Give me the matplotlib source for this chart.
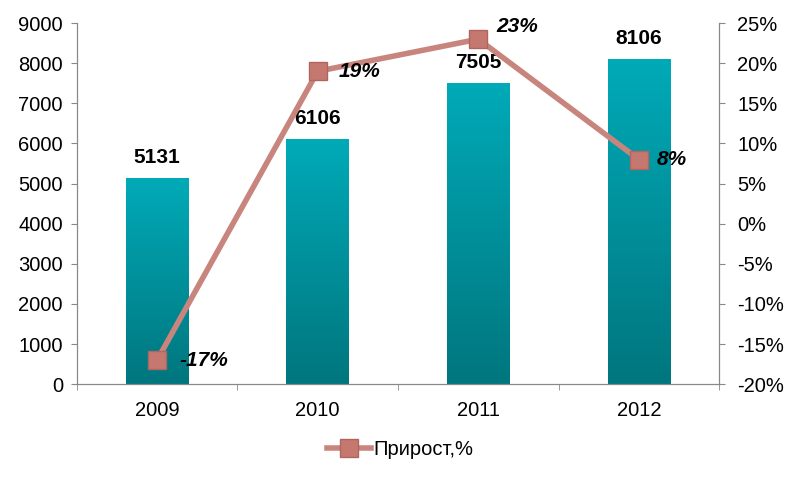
import numpy as np
import matplotlib
matplotlib.use("Agg")
import matplotlib.pyplot as plt
from matplotlib.colors import LinearSegmentedColormap
from matplotlib.ticker import FuncFormatter

plt.rcParams['font.family'] = ['Liberation Sans', 'DejaVu Sans']

years = ['2009', '2010', '2011', '2012']
values = [5131, 6106, 7505, 8106]
growth = [-17, 19, 23, 8]
legend_label = 'Прирост,%'

fig = plt.figure(figsize=(8, 4.82), dpi=100)
ax = fig.add_axes([0.096, 0.203, 0.803, 0.749])
ax2 = ax.twinx()

x = np.arange(len(years))
bw = 0.39
bars = ax.bar(x, values, width=bw, color='none', edgecolor='none', zorder=2)

# vertical gradient inside bars
cmap = LinearSegmentedColormap.from_list('teal', ['#00767E', '#00AAB8'])
grad = np.linspace(0, 1, 256).reshape(-1, 1)
for b in bars:
    x0, y0 = b.get_x(), b.get_y()
    w, h = b.get_width(), b.get_height()
    im = ax.imshow(grad, extent=[x0, x0 + w, y0, y0 + h], origin='lower',
                   cmap=cmap, aspect='auto', zorder=2)
    im.set_clip_path(b)

for xi, v in zip(x, values):
    ax.text(xi, v + 280, str(v), ha='center', va='bottom',
            fontsize=15, fontweight='bold')

ax.set_xlim(-0.5, len(years) - 0.5)
ax.set_ylim(0, 9000)
ax.set_yticks(np.arange(0, 9001, 1000))
ax.set_xticks(x)
ax.set_xticklabels(years)
ax.set_xticks(np.arange(-0.5, len(years), 1), minor=True)
ax.tick_params(axis='x', which='major', length=0, pad=12, labelsize=14.5)
ax.tick_params(axis='x', which='minor', length=4, color='#888888', direction='out')
ax.tick_params(axis='y', length=4, color='#888888', labelsize=14.5, pad=6)

ax2.set_ylim(-20, 25)
ax2.set_yticks(np.arange(-20, 26, 5))
ax2.yaxis.set_major_formatter(FuncFormatter(lambda v, p: f'{int(v)}%'))
ax2.tick_params(axis='y', length=4, color='#888888', labelsize=14.5, pad=9)

for a in (ax, ax2):
    a.spines['top'].set_visible(False)
    for s in ('left', 'right', 'bottom'):
        a.spines[s].set_color('#888888')

ax2.plot(x, growth, color='#C8857D', linewidth=4, marker='s', markersize=13,
         markerfacecolor='#C47870', markeredgecolor='#B0665F', markeredgewidth=1,
         zorder=3, label=legend_label)

offsets = [(0.14, 0.0), (0.13, 0.0), (0.11, 1.6), (0.11, 0.0)]
for xi, g, (dx, dy) in zip(x, growth, offsets):
    ax2.text(xi + dx, g + dy, f'{g}%', ha='left', va='center',
             fontsize=15, fontweight='bold', fontstyle='italic')

fig.legend(handles=ax2.get_lines(), loc='center', bbox_to_anchor=(0.5, 0.068),
           frameon=False, fontsize=14.5, handlelength=2.2, handletextpad=0.1)

fig.savefig('out.png', dpi=100)
